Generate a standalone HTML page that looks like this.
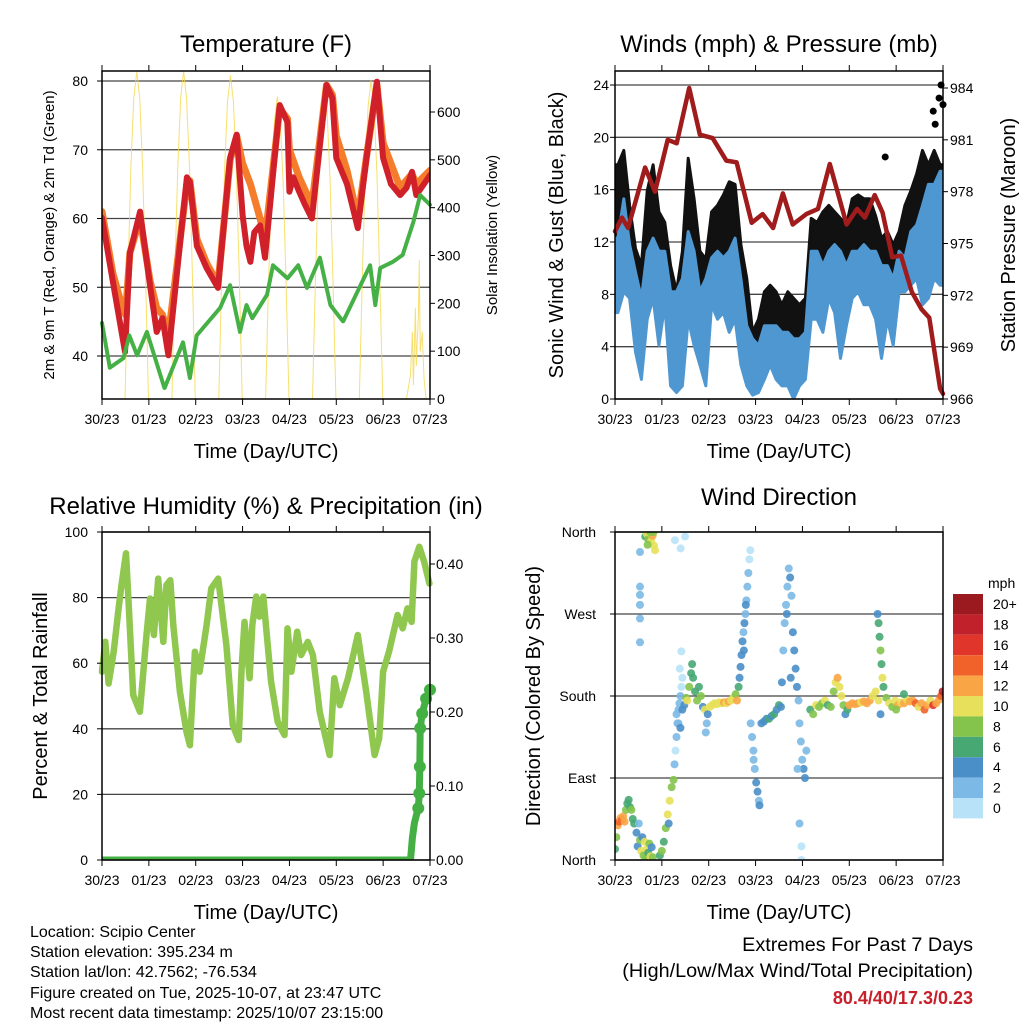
<!DOCTYPE html>
<html><head><meta charset="utf-8">
<style>
html,body{margin:0;padding:0;background:#fff;}
svg{display:block;font-family:"Liberation Sans",Arial,sans-serif;}
</style></head>
<body>
<svg id="chart" width="1024" height="1024" viewBox="0 0 1024 1024" xmlns="http://www.w3.org/2000/svg">
<rect x="0" y="0" width="1024" height="1024" fill="#fff"/>
<text x="266" y="52" font-size="24" text-anchor="middle">Temperature (F)</text>
<text x="779" y="52" font-size="24" text-anchor="middle">Winds (mph) &amp; Pressure (mb)</text>
<text x="266" y="514" font-size="24" text-anchor="middle">Relative Humidity (%) &amp; Precipitation (in)</text>
<text x="779" y="505" font-size="24" text-anchor="middle">Wind Direction</text>
<text x="266" y="458" font-size="20" text-anchor="middle">Time (Day/UTC)</text>
<text x="779" y="458" font-size="20" text-anchor="middle">Time (Day/UTC)</text>
<text x="266" y="919" font-size="20" text-anchor="middle">Time (Day/UTC)</text>
<text x="779" y="919" font-size="20" text-anchor="middle">Time (Day/UTC)</text>
<text transform="translate(54,235) rotate(-90)" font-size="15" text-anchor="middle">2m &amp; 9m T (Red, Orange) &amp; 2m Td (Green)</text>
<text transform="translate(497,235) rotate(-90)" font-size="15" text-anchor="middle">Solar Insolation (Yellow)</text>
<text transform="translate(563,235) rotate(-90)" font-size="20" text-anchor="middle">Sonic Wind &amp; Gust (Blue, Black)</text>
<text transform="translate(1015,235) rotate(-90)" font-size="20" text-anchor="middle">Station Pressure (Maroon)</text>
<text transform="translate(47,696) rotate(-90)" font-size="20" text-anchor="middle">Percent &amp; Total Rainfall</text>
<text transform="translate(540,696) rotate(-90)" font-size="20" text-anchor="middle">Direction (Colored By Speed)</text>
<g font-size="16">
<text x="30" y="937">Location: Scipio Center</text>
<text x="30" y="957">Station elevation: 395.234 m</text>
<text x="30" y="977">Station lat/lon: 42.7562; -76.534</text>
<text x="30" y="998">Figure created on Tue, 2025-10-07, at 23:47 UTC</text>
<text x="30" y="1018">Most recent data timestamp: 2025/10/07 23:15:00</text>
</g>
<g font-size="19.8" text-anchor="end">
<text x="973" y="951">Extremes For Past 7 Days</text>
<text x="973" y="977">(High/Low/Max Wind/Total Precipitation)</text>
<text x="973" y="1004" fill="#c8202a" font-weight="bold" font-size="18">80.4/40/17.3/0.23</text>
</g>
</svg>
<script>
// ---------- data ----------
const dayLabels=["30/23","01/23","02/23","03/23","04/23","05/23","06/23","07/23"];
const dayHours=[0,24,48,72,96,120,144,168];
const tempTicks=[40,50,60,70,80];
const solarTicks=[0,100,200,300,400,500,600];
const windTicks=[0,4,8,12,16,20,24];
const presTicks=[966,969,972,975,978,981,984];
const rhTicks=[0,20,40,60,80,100];
const precipTicks=[0,0.1,0.2,0.3,0.4];
const dirTicks=[0,90,180,270,360];
const dirTickLabels=["North","East","South","West","North"];
const speedLabels=["20+","18","16","14","12","10","8","6","4","2","0"];
const speedColors=["#9b1a1f","#c0212a","#e0352b","#f0622a","#f9a545","#e7e05a","#84c44c","#47a873","#4a8fc8","#7cb9e6","#b8e2f8"];

const redHours=[0,5.6,11.8,14.3,19.5,24.6,28,31,34,43.5,45,48.6,53.6,59.4,65.6,69,72,74,76,78,81,83.5,91,95,96,98,101,104,107.5,115,118,120,125.5,131,135.5,140.8,144,148,152.7,156,158.8,161,168];
const redTemps=[60.1,50.8,40.6,55,61,50.3,43.5,45.5,40.1,66,65.3,56,52.8,49.9,68.8,72.2,60.5,56,53.7,58,59,54.3,76.5,74,63.9,66,63.9,62,60,79.4,77.5,68.8,65,58.6,68.8,79.9,68.8,65,63.4,64.5,66.8,63.4,66.3];
const orangeHours=[0,5.6,10.5,12,14.3,19.5,24.6,28,31,34,43.5,45,48.6,53.6,59.4,65.6,69,72,76,81,83.5,91,95,96,101,107.5,115,118,120,125.5,131,135.5,140.8,144,152.7,158.8,161,168];
const orangeTemps=[61,52,47,46,55,60,51,47,46,43,65,65.5,57,53.5,50.5,68.5,72,68,65,60,57,76,74.5,70,66,62,79.4,78,72,67,60,69,79.5,71,64.5,66.5,65,67];
const dewHours=[0,4,11,14,18,23,32,41.5,45,48.5,60.5,65.6,70.7,74,77,84.5,87.6,95,100.5,105,111.6,117,123.5,137.3,140,142.5,149,154,159.5,163,168];
const dewTemps=[44.8,38.3,39.7,43,40.1,43.5,35.3,42,36.8,43,47,50.3,43.5,47.4,45.5,48.9,53.2,51.3,53.2,49.9,54.3,47.4,45,53.2,47.4,52.8,53.7,54.7,59.5,63.4,62];
const solarHours=[0,11.8,13.3,14.8,16.3,17.8,19.3,20.8,22.3,23.8,35.8,37.3,38.8,40.3,41.8,43.3,44.8,46.3,47.8,59.8,61.3,62.8,64.3,65.8,67.3,68.8,70.3,71.8,83.8,85.3,86.8,88.3,89.8,91.3,92.8,94.3,95.8,107.8,109.3,110.8,112.3,113.8,115.3,116.8,118.3,119.8,131.8,133.3,134.8,136.3,137.8,139.3,140.8,142.3,143.8,155.9,158,159,159.5,160.5,161,162,162.5,163,164,165,166,168];
const solarValues=[0,0,260,485,630,684,630,485,260,0,0,260,485,630,685,630,485,260,0,0,257,480,622,676,622,480,257,0,0,240,450,580,632,580,450,240,0,0,247,462,600,650,600,462,247,0,0,252,472,612,665,612,472,252,0,0,50,140,30,190,70,170,290,100,140,40,0,0];

const windBinHours=[1.5,4.5,7.5,10.5,13.5,16.5,19.5,22.5,25.5,28.5,31.5,34.5,37.5,40.5,43.5,46.5,49.5,52.5,55.5,58.5,61.5,64.5,67.5,70.5,73.5,76.5,79.5,82.5,85.5,88.5,91.5,94.5,97.5,100.5,103.5,106.5,109.5,112.5,115.5,118.5,121.5,124.5,127.5,130.5,133.5,136.5,139.5,142.5,145.5,148.5,151.5,154.5,157.5,160.5,163.5,166.5];
const windLow=[6.6,8.2,7.7,3.6,1.5,6.1,7.7,4.1,7.2,1,0.5,1,6.1,4.1,2.6,1,7.2,6.1,6.6,5.1,6.1,2.6,1,0.3,0.5,1.5,2.6,1.5,1,1,0,1,1.5,6.1,6.1,5.1,7.7,6.6,3.1,5.6,7.7,8.2,7.2,7.2,6.1,3.1,6.1,4.1,8.2,8.2,8.7,9.2,7.2,7.7,9.2,8.7];
const windHigh=[12.3,15.3,11.8,9.7,7.7,11.3,12.3,11.3,11.3,8.2,8.2,9.2,12.8,11.3,8.2,9.2,10.8,11.3,10.8,11.3,12.3,9.2,5.6,4.6,4.1,5.6,5.6,5.6,5.1,5.1,4.6,4.6,5.1,11.3,11.3,10.2,11.3,11.8,11.3,10.2,11.3,11.3,11.8,11.3,11.3,10.2,10.2,9.2,11.3,10.8,12.8,13.3,14.8,16.4,16.4,17.4];
const gustHigh=[17.9,19,14.8,11.5,10.2,15.9,17.9,14.3,13.5,10.2,8.2,11.3,18.4,15.3,11.3,10.7,14.3,14.8,15.6,16.6,16.4,11.8,9.2,5.1,6.1,8.2,8.7,8.2,7.2,8.2,7.7,7.2,7.7,13.8,13.5,14.3,14.8,14.3,13.8,13.3,15.3,15.6,15.3,15.3,14,12.3,12.8,11.8,12.8,14.8,15.9,17.2,19,17.9,19,17.9];
const gustOutlierHours=[138.4,163,164,166,167,168];
const gustOutlierValues=[18.5,22,21,23,24,22.5];
const presHours=[0,3.6,6.7,15.4,20.5,27,31.6,38,43.5,50,57,62.3,70,75.6,81,86,91,98,104,110,118.6,124,128,133,137,142,146.5,152,157,161,166.5,168];
const presValues=[975.7,976.5,975.9,979.4,978,981,980.8,984,981.3,981.1,979.8,979.7,976.2,976.7,975.9,977.9,976.1,976.7,977,979.6,976.1,977,976.5,977.8,976.8,974.2,974.3,972.2,971.2,970.7,966.6,966.3];

const rhHours=[0,1.7,3.4,6,8.5,10,12.3,13.5,16,19.4,22.8,24.6,26.6,28.8,31.4,33,35,36.5,39.9,43.3,45,47.6,50,53.6,56,59.5,63.7,67,70,71.5,73,75.6,77,79,80.6,82.6,86.6,90,93.5,95,97,100,102,105.4,108,111.5,116.6,119,121.8,126,131,135.3,139.6,142,144,147,151.4,154,156.5,158.6,160,162.5,165,167.7];
const rhValues=[57.4,66.5,53.8,63.5,76.7,83.8,93.5,79.7,50.3,45.2,68.6,79.7,68.6,85.8,66.5,83.8,85.3,71.6,51.3,39.1,35,63.5,57.4,71.6,82.8,85.8,65.5,41.1,36.6,58.4,72.6,55.4,71.6,80.3,74.2,80.3,54.3,42.1,38.1,70.6,57.4,69.6,62.5,66.5,62.5,45.2,32,55.4,47.2,55.4,68.6,51.3,32,37.1,57.4,63.5,74.7,70.6,76.7,72.6,91,95.5,91,84.3];
const precipHours=[0,158,159,160,161,162,162.5,162.8,163,164,166,168];
const precipValues=[0,0,0.03,0.05,0.06,0.07,0.09,0.126,0.178,0.198,0.218,0.23];

const dirHours=[0,0.7,1.4,2.1,2.8,3.5,4.2,4.9,5.6,6.3,7,7.7,8.4,9.1,9.8,
11,11.6,12.2,12.8,13.4,14,14.6,15.2,15.8,16.4,17,17.6,18.2,18.8,19.4,
12.8,12.8,12.8,12.8,12.8,12.8,
15.5,16.3,17,17.8,18.5,19.3,20,20.5,16.7,19.8,18,30.7,35.9,33.6,
23,24,25,26,27,28,29,30,27.5,
30.5,31,31.5,32,32.5,33,33.5,34,34.5,34,33.2,
31.5,32.5,33.5,34.5,35.5,36.5,37,38,39,40,41,42,43,44,45,46,47,46.5,47.5,39.5,
48.5,49.7,51,52.2,53.4,54.6,55.8,57,58.2,59.4,60.6,61.8,62.5,
63.3,63.8,64.3,64.8,65.3,65.8,66.3,66.8,67.3,67.8,68.3,68.8,69.3,67,66,
69.5,70.2,70.9,71.6,72.3,73,73.7,71,74,
75,76.3,77.6,78.9,80.2,81.5,82.8,84,85,
85.5,86.2,86.9,87.6,88.3,89,89.7,90.4,91.1,91.8,92.5,93.2,94,88,90,
94.5,95.2,95.9,96.6,97.3,98,94.5,95.5,95.5,93.5,
100,101.5,103,104.5,106,107.5,109,110.5,112,113,114,115,116,117,118,119,
120,121.5,123,124.5,126,127.5,129,130.5,132,133.5,135,
134.5,135,135.5,136,136.5,137,137.5,136,
139,140.5,142,143.5,145,146.5,148,149.5,151,152.5,154,155.5,157,158.5,160,161.5,163,164.5,166,167,167.8,148,144];
const dirValues=[12,25,38,42,46,44,48,42,55,62,66,58,55,45,40,
30,15,40,22,10,25,5,20,2,12,8,18,4,14,3,
338,300,291,280,265,239,
355,358,352,359,350,356,345,340,346,360,360,351,355,342,
5,10,20,35,50,65,80,88,40,
105,120,135,150,165,172,180,190,200,229,210,
160,150,145,165,170,178,175,190,205,200,185,175,190,180,168,165,150,140,160,215,
168,170,172,171,173,172,173,172,174,175,178,182,175,
190,200,212,225,240,250,260,270,285,300,315,330,340,280,230,
150,135,120,100,85,75,65,110,60,
150,152,155,155,158,160,165,170,168,
195,230,260,280,300,320,310,290,250,230,210,190,175,270,200,
150,130,110,100,90,120,40,15,0,100,
165,160,170,168,172,175,170,168,185,195,200,190,180,170,160,165,
170,172,171,172,173,174,172,175,180,185,175,
270,260,245,230,215,200,190,160,
178,172,168,175,170,173,172,176,174,175,172,168,172,165,170,175,170,172,176,180,185,182,165];
const dirSpeeds=[7,9,12,14,13,14,13,12,8,7,6,7,8,7,6,
4,5,3,9,10,4,8,11,9,10,6,9,10,5,8,
2,3,3,2,3,3,
7,10,9,11,10,12,10,10,8,9,8,1,1,1,
7,8,6,9,10,10,9,8,5,
2,1,2,3,2,3,2,1,1,1,1,
3,3,4,4,5,9,10,8,7,6,7,8,6,9,4,10,3,2,4,6,
10,11,10,11,10,11,12,10,12,11,10,8,12,
6,5,4,4,4,3,4,3,3,2,2,1,1,4,4,
2,2,2,3,4,4,3,2,4,
4,5,4,6,5,6,5,6,4,
4,3,2,3,2,2,4,2,4,4,4,4,3,4,4,
2,2,3,4,4,2,2,1,1,2,
7,8,10,9,8,10,7,8,9,11,12,10,11,8,4,7,
12,13,12,12,11,12,13,12,10,11,10,
4,6,7,8,7,10,6,4,
9,10,8,11,12,10,12,11,12,13,14,10,12,15,12,11,16,13,12,14,18,7,9];

// ---------- helpers ----------
const svg=document.getElementById('chart');
const NS='http://www.w3.org/2000/svg';
function el(tag,attrs,parent){const e=document.createElementNS(NS,tag);for(const k in attrs)e.setAttribute(k,attrs[k]);(parent||svg).appendChild(e);return e;}
function xs(P,h){return P.x0+h/168*(P.x1-P.x0);}
function lin(d0,d1,r0,r1){return v=>r0+(v-d0)/(d1-d0)*(r1-r0);}

const P1={x0:102,x1:430,y0:71,y1:399}, P2={x0:615,x1:943,y0:71,y1:399}, P3={x0:102,x1:430,y0:532,y1:860}, P4={x0:615,x1:943,y0:532,y1:860};
const yT=lin(40,80,356,81), yS=lin(0,600,399,112), yW=lin(0,24,399,85), yP=lin(966,984,399,88), yRH=lin(0,100,860,532), yPr=lin(0,0.4,860,564), yD=lin(0,360,860,532);

function grid(P,ticks,ys,name){
  const g=el('g',{});
  
  
  ticks.forEach(t=>{const y=ys(t);const l=el('line',{x1:P.x0,x2:P.x1,y1:y,y2:y,stroke:'#444','stroke-width':1.3},g);
    
    });
}
function frame(P,name){
  const r=el('rect',{x:P.x0,y:P.y0,width:P.x1-P.x0,height:P.y1-P.y0,fill:'none',stroke:'#000','stroke-width':1.5});
  
  
  const g=el('g',{});
  
  
  dayHours.forEach((h,i)=>{const x=xs(P,h);
    el('line',{x1:x,x2:x,y1:P.y1,y2:P.y1+6,stroke:'#000'},g);
    el('line',{x1:x,x2:x,y1:P.y0,y2:P.y0-6,stroke:'#000'},g);
    const t=el('text',{x:x,y:P.y1+25,'font-size':14,'text-anchor':'middle'},g);t.textContent=dayLabels[i];
    
    });
}
function yAxis(P,ticks,labels,ys,side,off,name){
  const g=el('g',{'font-size':14});
  
  
  ticks.forEach((t,i)=>{const y=ys(t);
    if(side==='left'){el('line',{x1:P.x0-5,x2:P.x0,y1:y,y2:y,stroke:'#000'},g);
      const tx=el('text',{x:P.x0-off,y:y+5,'text-anchor':'end'},g);tx.textContent=labels[i];}
    else{el('line',{x1:P.x1,x2:P.x1+5,y1:y,y2:y,stroke:'#000'},g);
      const tx=el('text',{x:P.x1+off,y:y+5,'text-anchor':'start'},g);tx.textContent=labels[i];}
  });
}
function poly(hs,vs,P,ys,attrs,name){
  const pts=hs.map((h,i)=>xs(P,h).toFixed(1)+','+ys(vs[i]).toFixed(1)).join(' ');
  const p=el('polyline',Object.assign({points:pts,fill:'none','stroke-linejoin':'round','stroke-linecap':'round'},attrs));
  
  
  return p;
}
function clip(P,id){const c=el('clipPath',{id:id});el('rect',{x:P.x0,y:P.y0,width:P.x1-P.x0,height:P.y1-P.y0},c);}
clip(P1,'c1');clip(P2,'c2');clip(P3,'c3');clip(P4,'c4');

// ---------- panel 1: temperature ----------
grid(P1,tempTicks,yT,'temp-gridlines');
poly(solarHours,solarValues,P1,yS,{stroke:'#f5d84a','stroke-width':1,opacity:0.8},'solar-line');
poly(orangeHours,orangeTemps,P1,yT,{stroke:'#f47c2a','stroke-width':7,'clip-path':'url(#c1)'},'temp-9m-line');
poly(redHours,redTemps,P1,yT,{stroke:'#d0202a','stroke-width':6,'clip-path':'url(#c1)'},'temp-2m-line');
poly(dewHours,dewTemps,P1,yT,{stroke:'#45b045','stroke-width':4,'stroke-dasharray':'3 1'},'dewpoint-line');
frame(P1,'temp-plot-frame');
yAxis(P1,tempTicks,tempTicks.map(String),yT,'left',14,'temp-left-axis');
yAxis(P1,solarTicks,solarTicks.map(String),yS,'right',7,'solar-right-axis');

// ---------- panel 2: winds ----------
grid(P2,windTicks,yW,'wind-gridlines');
function band(lo,hi,fill,name){
  const up=windBinHours.map((h,i)=>xs(P2,h).toFixed(1)+','+yW(hi[i]).toFixed(1));
  const dn=windBinHours.map((h,i)=>xs(P2,h).toFixed(1)+','+yW(lo[i]).toFixed(1)).reverse();
  const first=[xs(P2,0)+','+yW(hi[0]).toFixed(1)], last=[xs(P2,168)+','+yW(hi[hi.length-1]).toFixed(1),xs(P2,168)+','+yW(lo[lo.length-1]).toFixed(1)], firstLo=[xs(P2,0)+','+yW(lo[0]).toFixed(1)];
  const p=el('polygon',{points:first.concat(up,last,dn,firstLo).join(' '),fill:fill,stroke:fill,'stroke-width':3,'stroke-linejoin':'round','clip-path':'url(#c2)'});
  
  
}
band(windHigh,gustHigh,'#111','gust-band');
band(windLow,windHigh,'#4f97d1','wind-band');
gustOutlierHours.forEach((h,i)=>{const c=el('circle',{cx:xs(P2,h),cy:yW(gustOutlierValues[i]),r:3.5,fill:'#000'});
  
  });
poly(presHours,presValues,P2,yP,{stroke:'#a01c1c','stroke-width':4.5},'pressure-line');
frame(P2,'wind-plot-frame');
yAxis(P2,windTicks,windTicks.map(String),yW,'left',6,'wind-left-axis');
yAxis(P2,presTicks,presTicks.map(String),yP,'right',7,'pressure-right-axis');

// ---------- panel 3: RH ----------
grid(P3,rhTicks,yRH,'rh-gridlines');
poly(rhHours,rhValues,P3,yRH,{stroke:'#8fc74f','stroke-width':6.5},'rh-line');
poly(precipHours,precipValues,P3,yPr,{stroke:'#44b043','stroke-width':7,'clip-path':'url(#c3)'},'precip-line');
precipHours.forEach((h,i)=>{if(precipValues[i]<0.07)return;const c=el('circle',{cx:xs(P3,h),cy:yPr(precipValues[i]),r:6,fill:'#44b043'});
  
  });
frame(P3,'rh-plot-frame');
yAxis(P3,rhTicks,rhTicks.map(String),yRH,'left',14,'rh-left-axis');
yAxis(P3,precipTicks,precipTicks.map(v=>v.toFixed(2)),yPr,'right',6,'precip-right-axis');

// ---------- panel 4: direction ----------
grid(P4,dirTicks,yD,'dir-gridlines');
function spdColor(s){let idx=Math.floor(s/2);if(idx>10)idx=10;return speedColors[10-idx];}
const dg=el('g',{'clip-path':'url(#c4)'});


dirHours.forEach((h,i)=>{const c=el('circle',{cx:xs(P4,h),cy:yD(dirValues[i]),r:4,fill:spdColor(dirSpeeds[i]),opacity:0.9},dg);
  
  });
frame(P4,'dir-plot-frame');
yAxis(P4,dirTicks,dirTickLabels,yD,'left',19,'dir-left-axis');

// colorbar
const cb=el('g',{});


const cbt=el('text',{x:988,y:588,'font-size':14},cb);cbt.textContent='mph';
speedColors.forEach((c,i)=>{const y=594+i*20.4;
  const r=el('rect',{x:953,y:y,width:30,height:20.4,fill:c},cb);
  
  
  const t=el('text',{x:993,y:y+15,'font-size':14},cb);t.textContent=speedLabels[i];
  
  });
</script>
</body></html>
